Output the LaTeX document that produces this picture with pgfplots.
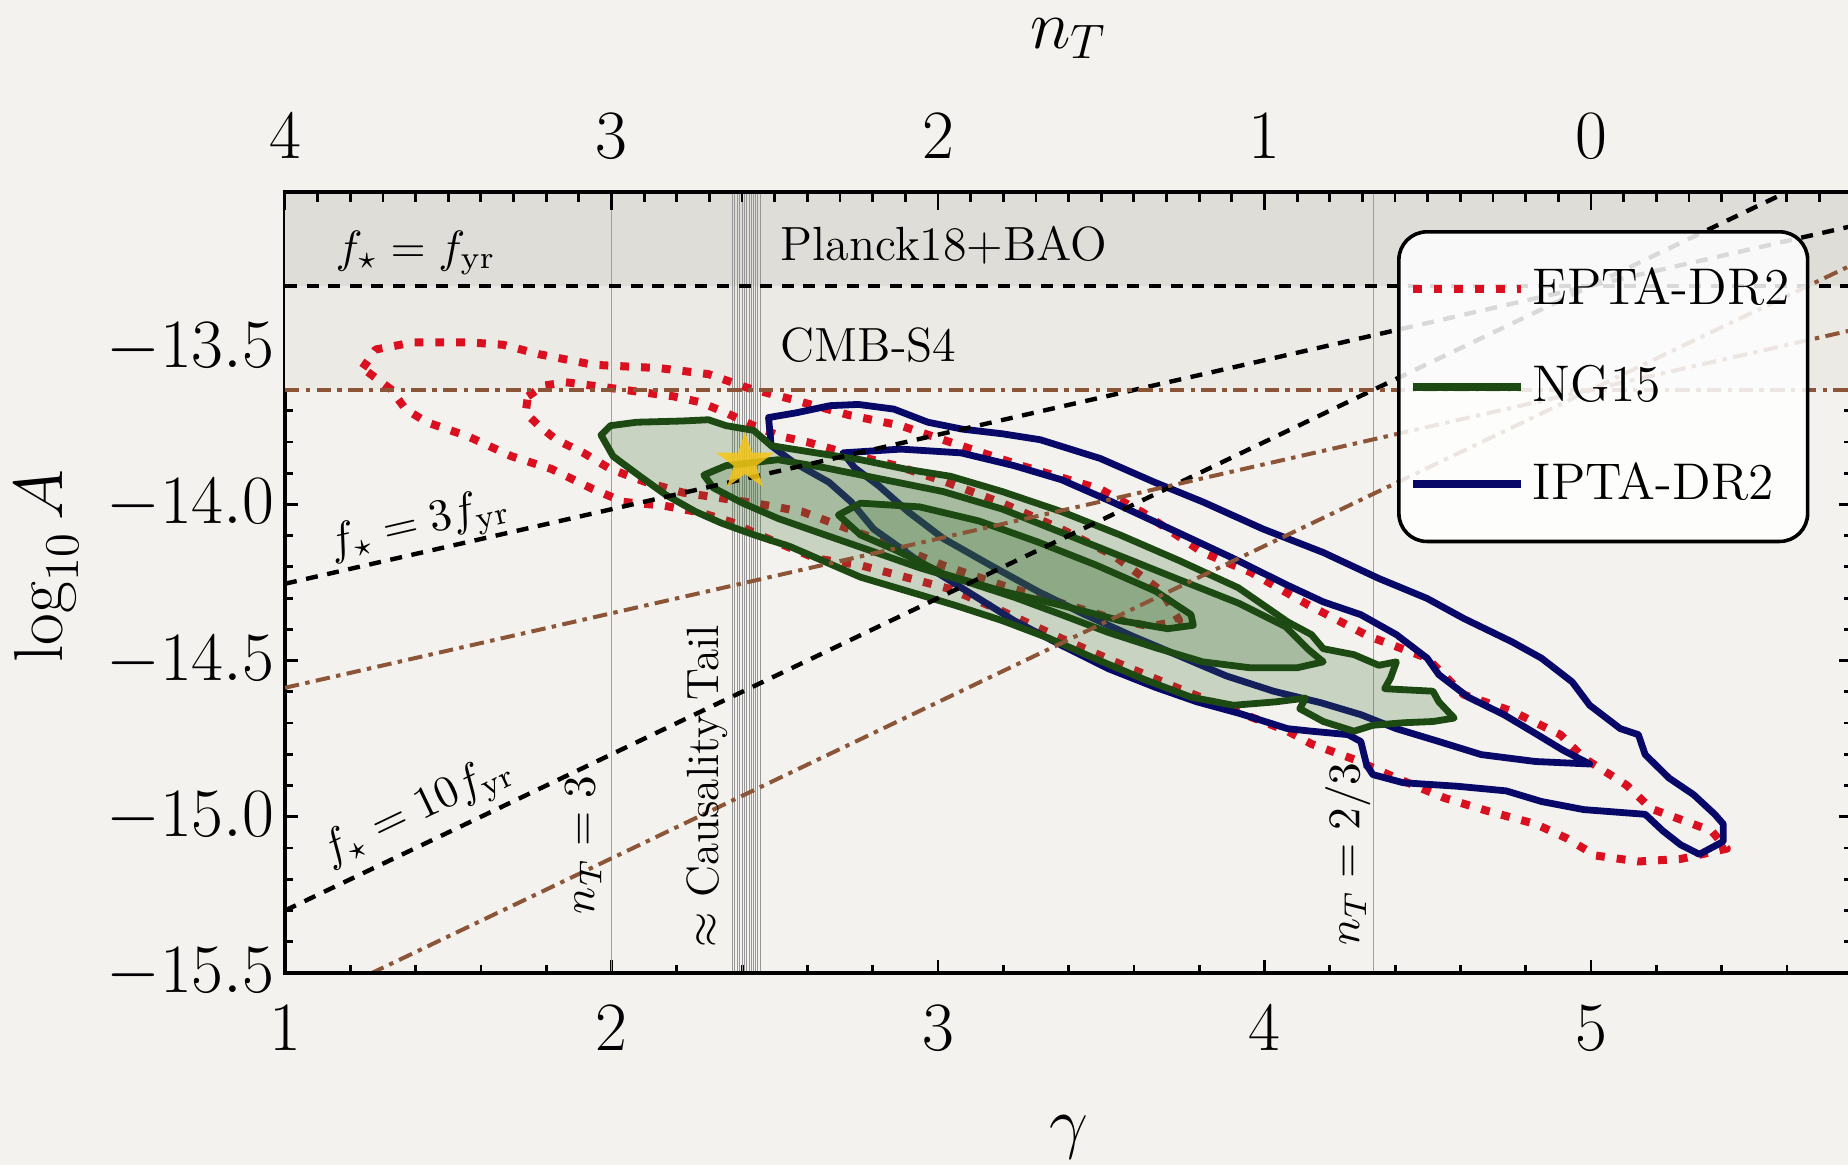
\documentclass[border=0pt]{standalone}
\usepackage{fix-cm}
\usepackage{pgfplots}
\pgfplotsset{compat=1.18}

\definecolor{paper}{RGB}{243,242,238}
\definecolor{planckband}{RGB}{223,221,216}
\definecolor{sfourband}{RGB}{236,234,229}
\definecolor{eptared}{RGB}{218,16,32}
\definecolor{ngline}{RGB}{28,74,18}
\definecolor{ngfill}{RGB}{60,110,50}
\definecolor{iptanavy}{RGB}{8,8,105}
\definecolor{refbrown}{RGB}{140,85,55}
\definecolor{gridgray}{RGB}{160,160,160}
\definecolor{tailgray}{RGB}{150,150,150}
\definecolor{stargold}{RGB}{246,198,22}

\tikzset{
  epta/.style={eptared, line width=2pt, dash pattern=on 2.2pt off 3pt, line join=round},
  ipta/.style={iptanavy, line width=1.7pt, line join=round},
  ng/.style={ngline, line width=1.7pt, line join=round, fill=ngfill, fill opacity=0.23, draw opacity=1},
  fyr/.style={black, line width=1.1pt, dash pattern=on 3pt off 2.4pt},
  sfour/.style={refbrown, line width=1pt, dash pattern=on 3.6pt off 1.6pt on 1.1pt off 1.6pt},
}

% five-pointed star marker
\pgfdeclareplotmark{fivestar}{%
  \pgfpathmoveto{\pgfpointpolar{90}{\pgfplotmarksize}}%
  \pgfpathlineto{\pgfpointpolar{126}{0.382\pgfplotmarksize}}%
  \pgfpathlineto{\pgfpointpolar{162}{\pgfplotmarksize}}%
  \pgfpathlineto{\pgfpointpolar{198}{0.382\pgfplotmarksize}}%
  \pgfpathlineto{\pgfpointpolar{234}{\pgfplotmarksize}}%
  \pgfpathlineto{\pgfpointpolar{270}{0.382\pgfplotmarksize}}%
  \pgfpathlineto{\pgfpointpolar{306}{\pgfplotmarksize}}%
  \pgfpathlineto{\pgfpointpolar{342}{0.382\pgfplotmarksize}}%
  \pgfpathlineto{\pgfpointpolar{18}{\pgfplotmarksize}}%
  \pgfpathlineto{\pgfpointpolar{54}{0.382\pgfplotmarksize}}%
  \pgfpathclose
  \pgfusepathqfill}

\newcommand{\ticksize}{\fontsize{17.3}{20}\selectfont}
\newcommand{\notesize}{\fontsize{11.3}{13}\selectfont}
\newcommand{\bandsize}{\fontsize{12}{14}\selectfont}
\newcommand{\legsize}{\fontsize{12.9}{15}\selectfont}

\begin{document}
\begin{tikzpicture}
\fill[paper] (-71.25pt,-48pt) rectangle (390.75pt,243.25pt);

\begin{axis}[
  scale only axis, width=391.8pt, height=195.25pt,
  xmin=1, xmax=5.8, ymin=-15.5, ymax=-13.0,
  xtick={1,2,3,4,5},
  minor xtick={1.2,1.4,1.6,1.8,2.2,2.4,2.6,2.8,3.2,3.4,3.6,3.8,4.2,4.4,4.6,4.8,5.2,5.4,5.6},
  ytick={-15.5,-15,-14.5,-14,-13.5},
  minor ytick={-15.4,-15.3,-15.2,-15.1,-14.9,-14.8,-14.7,-14.6,-14.4,-14.3,-14.2,-14.1,-13.9,-13.8,-13.7,-13.6,-13.4,-13.3,-13.2,-13.1},
  xtick pos=left, ytick pos=both, yticklabel pos=left,
  tick align=inside,
  major tick length=3.3pt, minor tick length=2pt,
  axis line style={line width=0.8pt},
  every tick/.style={black, line width=0.7pt},
  tick label style={font=\ticksize},
  yticklabel style={/pgf/number format/.cd, fixed, fixed zerofill, precision=1, /tikz/.cd, inner sep=0pt, xshift=-2.5pt},
  xticklabel style={inner sep=0pt, yshift=-8pt},
  xlabel={$\gamma$}, ylabel={$\log_{10} A$},
  label style={font=\ticksize, inner sep=0pt},
  xlabel style={at={(axis description cs:0.5,-0.21)}, anchor=center},
  ylabel style={at={(axis description cs:-0.152,0.521)}, anchor=center},
  unbounded coords=jump,
  legend style={at={(0.7096,0.9513)}, anchor=north west, draw=black, line width=0.9pt,
    rounded corners=7pt, fill=white, fill opacity=0.85, text opacity=1, draw opacity=1,
    font=\legsize, inner xsep=2.5pt, inner ysep=7pt, row sep=9.7pt, cells={anchor=west}},
  legend image code/.code={\draw[#1, rounded corners=0pt] (0pt,0pt) -- (27pt,0pt);},
]

% excluded bands
\addplot[draw=none, fill=sfourband, forget plot] coordinates {(1,-13.633) (5.8,-13.633) (5.8,-13.3) (1,-13.3)} -- cycle;
\addplot[draw=none, fill=planckband, forget plot] coordinates {(1,-13.3) (5.8,-13.3) (5.8,-13.0) (1,-13.0)} -- cycle;

% reference spectral indices
\addplot[gridgray, line width=0.4pt, forget plot] coordinates {(2,-15.5) (2,-13.0) (nan,nan) (4.3333,-15.5) (4.3333,-13.0)};
\addplot[tailgray, line width=0.22pt, forget plot] coordinates {
 (2.370,-15.5) (2.370,-13.0) (nan,nan) (2.378,-15.5) (2.378,-13.0) (nan,nan)
 (2.386,-15.5) (2.386,-13.0) (nan,nan) (2.393,-15.5) (2.393,-13.0) (nan,nan)
 (2.400,-15.5) (2.400,-13.0) (nan,nan) (2.407,-15.5) (2.407,-13.0) (nan,nan)
 (2.414,-15.5) (2.414,-13.0) (nan,nan) (2.421,-15.5) (2.421,-13.0) (nan,nan)
 (2.428,-15.5) (2.428,-13.0) (nan,nan) (2.435,-15.5) (2.435,-13.0) (nan,nan)
 (2.442,-15.5) (2.442,-13.0) (nan,nan) (2.448,-15.5) (2.448,-13.0) (nan,nan)
 (2.455,-15.5) (2.455,-13.0)};

% EPTA-DR2
\addplot[epta, forget plot] coordinates {
(1.238,-13.564) (1.278,-13.504) (1.394,-13.481) (1.560,-13.481) (1.668,-13.489) (1.777,-13.519)
(1.943,-13.553) (2.149,-13.564) (2.297,-13.583) (2.420,-13.628) (2.557,-13.665) (2.727,-13.714)
(2.886,-13.748) (3.070,-13.812) (3.255,-13.876) (3.497,-13.951) (3.627,-14.026) (3.811,-14.154)
(3.959,-14.218) (4.136,-14.323) (4.317,-14.421) (4.498,-14.492) (4.610,-14.609) (4.758,-14.662)
(4.906,-14.737) (4.978,-14.812) (5.108,-14.898) (5.184,-14.974) (5.369,-15.045) (5.416,-15.102)
(5.275,-15.135) (5.145,-15.143) (5.014,-15.124) (4.924,-15.068) (4.830,-15.023) (4.682,-14.981)
(4.552,-14.940) (4.404,-14.876) (4.274,-14.816) (4.144,-14.767) (4.071,-14.726) (3.920,-14.665)
(3.739,-14.590) (3.558,-14.511) (3.378,-14.429) (3.197,-14.342) (3.038,-14.271) (2.763,-14.195)
(2.626,-14.173) (2.503,-14.120) (2.435,-14.090) (2.366,-14.056) (2.272,-14.026) (2.160,-14.004)
(2.037,-13.992) (1.943,-13.951) (1.817,-13.887) (1.694,-13.846) (1.560,-13.782) (1.434,-13.737)
(1.369,-13.695) (1.325,-13.632)} -- cycle;
\addplot[epta, forget plot] coordinates {
(1.744,-13.654) (1.791,-13.620) (1.860,-13.609) (1.943,-13.620) (2.080,-13.639) (2.189,-13.654)
(2.272,-13.673) (2.351,-13.707) (2.435,-13.748) (2.518,-13.782) (2.601,-13.801) (2.727,-13.838)
(2.872,-13.876) (3.016,-13.925) (3.197,-13.996) (3.378,-14.079) (3.540,-14.165) (3.685,-14.278)
(3.739,-14.372) (3.649,-14.391) (3.522,-14.361) (3.378,-14.316) (3.197,-14.259) (3.016,-14.195)
(2.872,-14.135) (2.727,-14.079) (2.583,-14.023) (2.438,-13.996) (2.218,-13.962) (2.106,-13.929)
(1.997,-13.887) (1.914,-13.835) (1.831,-13.793) (1.777,-13.748) (1.737,-13.707)} -- cycle;

% IPTA-DR2
\addplot[ipta, forget plot] coordinates {
(2.481,-13.722) (2.565,-13.707) (2.669,-13.684) (2.756,-13.680) (2.865,-13.695) (2.969,-13.737)
(3.074,-13.759) (3.197,-13.774) (3.313,-13.793) (3.497,-13.853) (3.663,-13.929) (3.811,-13.992)
(3.996,-14.079) (4.180,-14.154) (4.350,-14.237) (4.498,-14.301) (4.610,-14.365) (4.758,-14.440)
(4.848,-14.492) (4.942,-14.568) (4.996,-14.643) (5.090,-14.718) (5.145,-14.737) (5.166,-14.801)
(5.239,-14.876) (5.314,-14.929) (5.379,-14.992) (5.405,-15.023) (5.405,-15.079) (5.332,-15.120)
(5.275,-15.090) (5.220,-15.045) (5.166,-14.992) (4.978,-14.977) (4.848,-14.951) (4.740,-14.917)
(4.588,-14.902) (4.425,-14.891) (4.332,-14.865) (4.313,-14.835) (4.295,-14.759) (4.256,-14.737)
(4.144,-14.726) (4.071,-14.718) (3.923,-14.669) (3.793,-14.632) (3.667,-14.586) (3.522,-14.526)
(3.378,-14.451) (3.233,-14.372) (3.089,-14.278) (2.944,-14.184) (2.803,-14.079) (2.734,-13.992)
(2.666,-13.929) (2.557,-13.865) (2.489,-13.812)} -- cycle;
\addplot[ipta, forget plot] coordinates {
(2.709,-13.835) (2.886,-13.823) (3.070,-13.835) (3.233,-13.876) (3.378,-13.921) (3.533,-13.992)
(3.735,-14.090) (3.905,-14.173) (4.071,-14.259) (4.180,-14.312) (4.295,-14.353) (4.404,-14.417)
(4.498,-14.492) (4.534,-14.545) (4.624,-14.617) (4.733,-14.673) (4.823,-14.729) (4.913,-14.786)
(4.996,-14.831) (4.830,-14.823) (4.664,-14.801) (4.534,-14.759) (4.404,-14.718) (4.295,-14.673)
(4.173,-14.635) (4.028,-14.598) (3.883,-14.549) (3.739,-14.485) (3.594,-14.421) (3.450,-14.353)
(3.305,-14.278) (3.161,-14.195) (3.016,-14.109) (2.908,-14.023) (2.818,-13.940) (2.745,-13.883)} -- cycle;

% NG15
\addplot[ng, forget plot] coordinates {
(1.968,-13.778) (1.997,-13.748) (2.077,-13.737) (2.218,-13.733) (2.297,-13.729) (2.351,-13.748)
(2.435,-13.763) (2.489,-13.812) (2.626,-13.835) (2.763,-13.857) (2.901,-13.887) (3.038,-13.910)
(3.197,-13.959) (3.378,-14.023) (3.558,-14.098) (3.739,-14.180) (3.920,-14.267) (4.071,-14.376)
(4.144,-14.417) (4.180,-14.462) (4.274,-14.481) (4.350,-14.515) (4.404,-14.504) (4.386,-14.556)
(4.368,-14.590) (4.516,-14.598) (4.534,-14.632) (4.581,-14.684) (4.516,-14.695) (4.425,-14.699)
(4.332,-14.707) (4.274,-14.726) (4.180,-14.695) (4.108,-14.654) (4.126,-14.620) (4.035,-14.632)
(3.905,-14.643) (3.775,-14.617) (3.631,-14.560) (3.486,-14.496) (3.341,-14.429) (3.197,-14.372)
(3.052,-14.323) (2.908,-14.278) (2.763,-14.233) (2.655,-14.184) (2.547,-14.135) (2.438,-14.098)
(2.337,-14.060) (2.257,-14.023) (2.167,-13.970) (2.077,-13.902) (2.005,-13.846)} -- cycle;
\addplot[ng, forget plot] coordinates {
(2.283,-13.906) (2.351,-13.876) (2.510,-13.857) (2.655,-13.883) (2.836,-13.921) (3.016,-13.959)
(3.197,-14.015) (3.378,-14.090) (3.558,-14.165) (3.739,-14.241) (3.920,-14.316) (4.064,-14.391)
(4.136,-14.466) (4.180,-14.504) (4.100,-14.523) (3.956,-14.523) (3.811,-14.504) (3.667,-14.459)
(3.522,-14.410) (3.378,-14.353) (3.233,-14.297) (3.089,-14.248) (2.944,-14.203) (2.799,-14.150)
(2.655,-14.098) (2.510,-14.045) (2.402,-13.996) (2.312,-13.947)} -- cycle;
\addplot[ng, forget plot] coordinates {
(2.695,-14.034) (2.763,-13.996) (2.944,-14.008) (3.125,-14.053) (3.305,-14.120) (3.486,-14.195)
(3.667,-14.278) (3.775,-14.353) (3.782,-14.387) (3.703,-14.398) (3.558,-14.372) (3.378,-14.323)
(3.197,-14.278) (3.016,-14.222) (2.872,-14.147) (2.763,-14.098)} -- cycle;

% constant-amplitude lines at f_star = f_yr, 3 f_yr, 10 f_yr
\addplot[fyr, forget plot] coordinates {(1,-13.300) (5.8,-13.300)};
\addplot[fyr, forget plot] coordinates {(1,-14.254) (5.8,-13.109)};
\addplot[fyr, forget plot] coordinates {(1,-15.300) (5.8,-12.900)};
\addplot[sfour, forget plot] coordinates {(1,-13.633) (5.8,-13.633)};
\addplot[sfour, forget plot] coordinates {(1,-14.587) (5.8,-13.442)};
\addplot[sfour, forget plot] coordinates {(1,-15.633) (5.8,-13.233)};

% best fit point
\addplot[only marks, mark=fivestar, mark size=7.7pt, mark options={fill=stargold, fill opacity=0.85, draw=none}, forget plot] coordinates {(2.409,-13.865)};

% annotations
\node[font=\notesize] at (axis cs:1.40,-13.195) {$f_\star = f_{\mathrm{yr}}$};
\node[font=\bandsize, anchor=west, inner sep=0pt] at (axis cs:2.516,-13.17) {Planck18+BAO};
\node[font=\bandsize, anchor=west, inner sep=0pt] at (axis cs:2.516,-13.49) {CMB-S4};
\node[font=\notesize, rotate=13] at (axis cs:1.412,-14.071) {$f_\star = 3 f_{\mathrm{yr}}$};
\node[font=\notesize, rotate=25.6] at (axis cs:1.408,-14.985) {$f_\star = 10 f_{\mathrm{yr}}$};
\node[font=\notesize, rotate=90] at (axis cs:1.914,-15.09) {$n_T = 3$};
\node[font=\notesize, rotate=90] at (axis cs:2.294,-14.902) {$\approx$ Causality Tail};
\node[font=\notesize, rotate=90] at (axis cs:4.256,-15.12) {$n_T = 2/3$};

\addlegendimage{epta}
\addlegendentry{EPTA-DR2}
\addlegendimage{ngline, line width=2pt}
\addlegendentry{NG15}
\addlegendimage{iptanavy, line width=2pt}
\addlegendentry{IPTA-DR2}
\end{axis}

% tensor spectral index on the top edge
\begin{axis}[
  scale only axis, width=391.8pt, height=195.25pt,
  xmin=-0.8, xmax=4, x dir=reverse, ymin=0, ymax=1,
  hide y axis,
  xtick={0,1,2,3,4},
  minor xtick={-0.7,-0.6,-0.5,-0.4,-0.3,-0.2,-0.1,0.1,0.2,0.3,0.4,0.5,0.6,0.7,0.8,0.9,1.1,1.2,1.3,1.4,1.5,1.6,1.7,1.8,1.9,2.1,2.2,2.3,2.4,2.5,2.6,2.7,2.8,2.9,3.1,3.2,3.3,3.4,3.5,3.6,3.7,3.8,3.9},
  xtick pos=right, xticklabel pos=right,
  tick align=inside,
  major tick length=4.6pt, minor tick length=2.5pt,
  axis line style={line width=0.8pt},
  every tick/.style={black, line width=0.7pt},
  tick label style={font=\ticksize},
  xticklabel style={inner sep=0pt, yshift=8.25pt},
  xlabel={$n_T$},
  label style={font=\ticksize, inner sep=0pt},
  xlabel style={at={(axis description cs:0.5,1.196)}, anchor=center},
]
\addplot[draw=none, forget plot] coordinates {(0,0.5)};
\end{axis}

\pgfresetboundingbox
\path[use as bounding box] (-71.25pt,-48pt) rectangle (390.75pt,243.25pt);
\end{tikzpicture}
\end{document}
